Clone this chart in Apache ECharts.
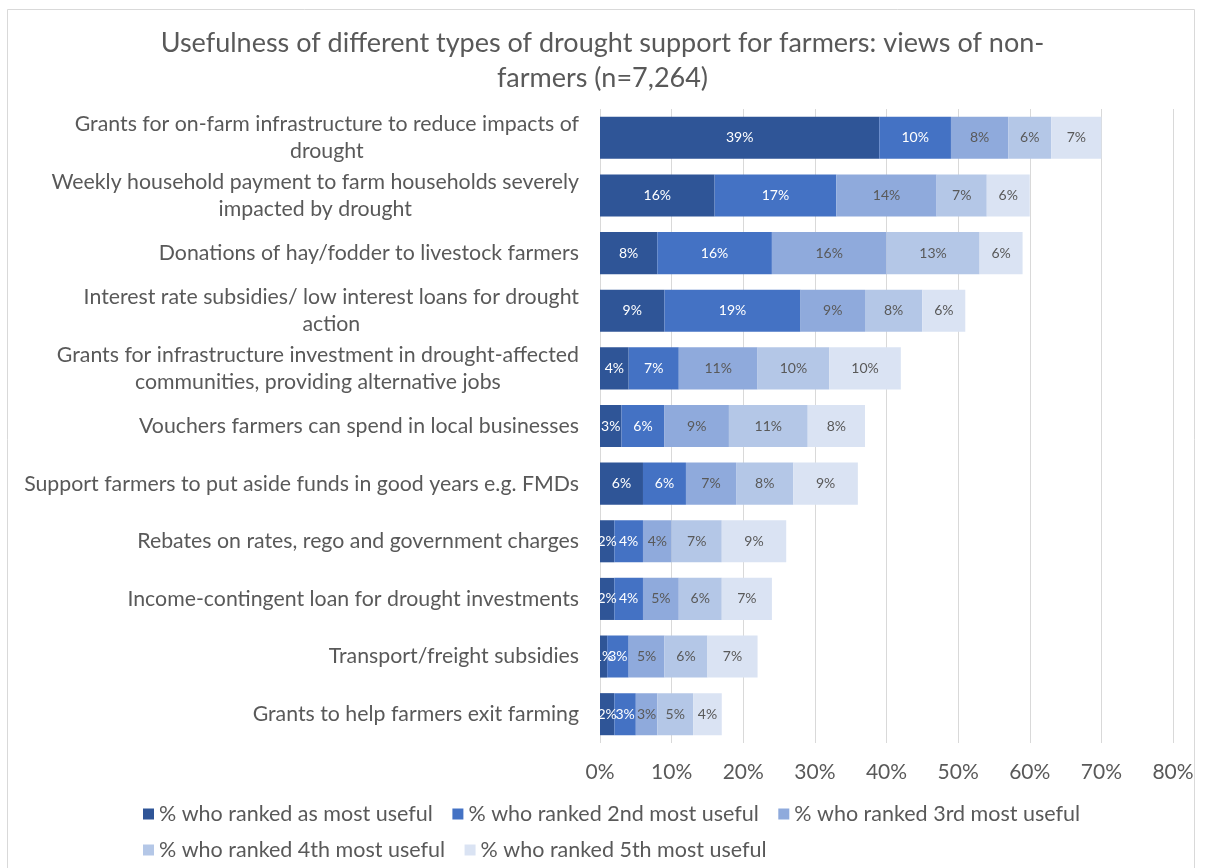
<!DOCTYPE html>
<html>
<head>
<meta charset="utf-8">
<script src="https://cdn.jsdelivr.net/npm/echarts@6/dist/echarts.min.js"></script>
<style>
  html, body { margin: 0; padding: 0; background: #ffffff; }
  #chart { width: 1205px; height: 868px; }
</style>
</head>
<body>
<div id="chart"></div>
<script>
// Support measures, top to bottom
const categories = [
  "Grants for on-farm infrastructure to reduce impacts of\ndrought",
  "Weekly household payment to farm households severely\nimpacted by drought",
  "Donations of hay/fodder to livestock farmers",
  "Interest rate subsidies/ low interest loans for drought\naction",
  "Grants for infrastructure investment in drought-affected\ncommunities, providing alternative jobs",
  "Vouchers farmers can spend in local businesses",
  "Support farmers to put aside funds in good years e.g. FMDs",
  "Rebates on rates, rego and government charges",
  "Income-contingent loan for drought investments",
  "Transport/freight subsidies",
  "Grants to help farmers exit farming"
];

// Share of respondents (%) by rank
const rankedMost = [39, 16, 8, 9, 4, 3, 6, 2, 2, 1, 2];
const ranked2nd  = [10, 17, 16, 19, 7, 6, 6, 4, 4, 3, 3];
const ranked3rd  = [8, 14, 16, 9, 11, 9, 7, 4, 5, 5, 3];
const ranked4th  = [6, 7, 13, 8, 10, 11, 8, 7, 6, 6, 5];
const ranked5th  = [7, 6, 6, 6, 10, 8, 9, 9, 7, 7, 4];

const seriesNames = [
  "% who ranked as most useful",
  "% who ranked 2nd most useful",
  "% who ranked 3rd most useful",
  "% who ranked 4th most useful",
  "% who ranked 5th most useful"
];
const seriesData = [rankedMost, ranked2nd, ranked3rd, ranked4th, ranked5th];
const colors = ["#2f5597", "#4472c4", "#8faadc", "#b4c7e7", "#dae3f3"];
const labelColors = ["#ffffff", "#ffffff", "#595959", "#595959", "#595959"];

const FONT = "Lato, 'Open Sans', sans-serif";

const chart = echarts.init(document.getElementById('chart'), null, { renderer: 'canvas' });

chart.setOption({
  backgroundColor: '#ffffff',
  animation: false,
  textStyle: { fontFamily: FONT },
  graphic: [{
    type: 'rect',
    shape: { x: 7.5, y: 9.5, width: 1187, height: 880 },
    style: { fill: 'none', stroke: '#d9d9d9', lineWidth: 1 },
    silent: true
  }],
  title: {
    text: "{t|Usefulness of different types of drought support for farmers: views of non-}\n{t|farmers (n=7,264)}",
    left: 'center',
    top: 21,
    textStyle: {
      fontWeight: 'normal',
      rich: {
        t: {
          align: 'center',
          fontFamily: FONT,
          fontSize: 27,
          fontWeight: 'normal',
          color: '#595959',
          lineHeight: 35
        }
      }
    }
  },
  legend: {
    data: seriesNames,
    left: 138,
    top: 798,
    width: 990,
    itemWidth: 11,
    itemHeight: 11,
    itemGap: 14,
    icon: 'rect',
    // trailing space widens the horizontal gap between entries without growing the row gap
    formatter: function (name) { return name + ' '; },
    textStyle: { fontFamily: FONT, fontSize: 21.5, color: '#595959' }
  },
  grid: {
    left: 600,
    right: 32,
    top: 109,
    bottom: 125,
    containLabel: false
  },
  xAxis: {
    type: 'value',
    min: 0,
    max: 80,
    interval: 10,
    axisLine: { show: false },
    axisTick: { show: false },
    splitLine: { show: true, lineStyle: { color: '#d9d9d9', width: 1 } },
    axisLabel: {
      formatter: '{value}%',
      fontFamily: FONT,
      fontSize: 21,
      color: '#595959',
      margin: 19
    }
  },
  yAxis: {
    type: 'category',
    data: categories,
    inverse: true,
    axisLine: { show: false },
    axisTick: { show: false },
    axisLabel: {
      margin: 21,
      formatter: function (v) {
        return v.split('\n').map(function (s) { return '{c|' + s + '}'; }).join('\n');
      },
      rich: {
        c: {
          align: 'center',
          fontFamily: FONT,
          fontSize: 21.3,
          color: '#595959',
          lineHeight: 27
        }
      }
    }
  },
  series: seriesData.map(function (d, i) {
    return {
      name: seriesNames[i],
      type: 'bar',
      stack: 'rank',
      data: d,
      barCategoryGap: '27%',
      itemStyle: { color: colors[i] },
      label: {
        show: true,
        position: 'inside',
        formatter: '{c}%',
        fontFamily: FONT,
        fontSize: 14,
        color: labelColors[i]
      }
    };
  })
});
</script>
</body>
</html>
